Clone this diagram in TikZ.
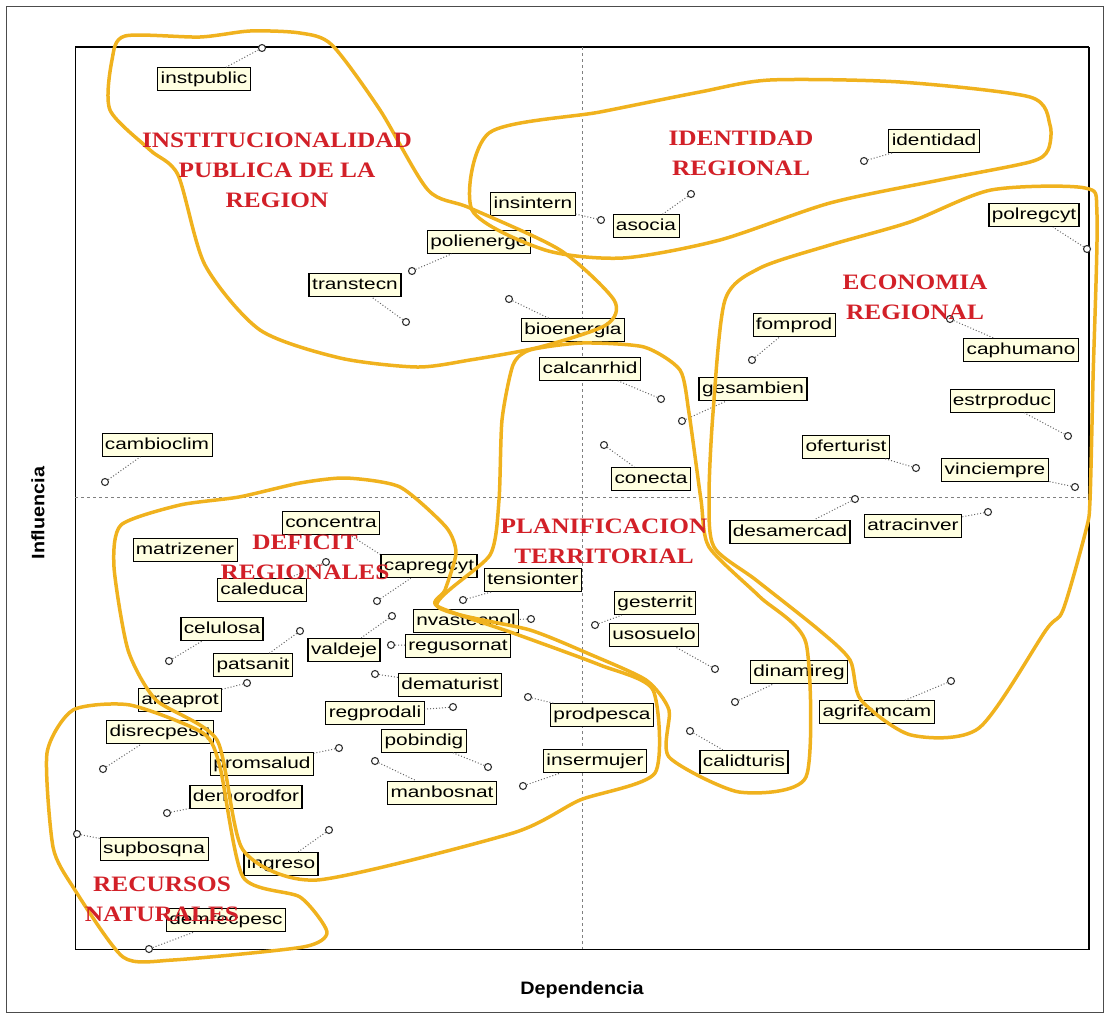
\documentclass[tikz,border=0pt]{standalone}
\usepackage{fontspec}
\setmainfont{Liberation Serif}
\newfontfamily\lblfont[FakeStretch=1.3]{Liberation Sans}
\newfontfamily\axfont[FakeStretch=1.1]{Liberation Sans}
\newfontfamily\grpfont[FakeStretch=1.15]{Liberation Serif}
\definecolor{cream}{RGB}{255,255,225}
\definecolor{zoneyellow}{RGB}{240,178,30}
\definecolor{zonered}{RGB}{210,32,40}

\begin{document}
\begin{tikzpicture}[x=1pt,y=-1pt,
    lbl/.style={draw=black, fill=cream, font=\lblfont\fontsize{16}{16}\selectfont,
      inner xsep=3pt, inner ysep=4pt, text height=11.5pt, text depth=3.5pt},
    pnt/.style={circle, draw=black!80, fill=white, line width=1.1pt,
      inner sep=0pt, minimum size=7pt},
    leader/.style={black!60, dotted, line width=1pt},
    zone/.style={zoneyellow, line width=3.5pt, line join=round},
    zonename/.style={zonered, font=\grpfont\bfseries\fontsize{22}{30}\selectfont, align=center},
    axisname/.style={font=\axfont\bfseries\fontsize{18}{18}\selectfont}]
  \useasboundingbox (0,0) rectangle (1109,1018);
  %%%%%%%%%%%%%%%%% frame and axes %%%%%%%%%%%%%%%%%%%
  \draw[black!70, line width=1pt] (6,6) rectangle (1103,1012);
  \draw[line width=1pt] (75,47) rectangle (1089,949);
  \draw[line width=2.5pt] (75,47) -- (1089,47);
  \draw[line width=1.8pt] (1089,47) -- (1089,949);
  \draw[black!50, dashed] (582,47) -- (582,949);
  \draw[black!50, dashed] (75,497) -- (1089,497);
  \node[axisname] (dep) at (582,990) {Dependencia};
  \node[axisname, rotate=90] (inf) at (38,513) {Influencia};

  %%%%%%%%%%%%%%%%% variables %%%%%%%%%%%%%%%%%%%
  %  name / box line width / box x;y / point x;y
  \foreach \n/\w/\bx/\by/\px/\py in {%
    instpublic/0.6/204/79/262/48, identidad/0.6/934/141/864/161,
    insintern/0.6/533/204/601/220, asocia/0.6/646/226/691/194,
    polregcyt/1.5/1034/215/1087/249, polienerge/0.6/479/242/412/271,
    transtecn/1.5/355/285/406/322, bioenergia/0.6/573/330/509/299,
    fomprod/0.6/794/325/752/360, caphumano/0.6/1021/350/950/319,
    calcanrhid/0.6/590/369/661/399, gesambien/1.5/753/389/682/421,
    estrproduc/0.6/1002/401/1068/436, cambioclim/0.6/157/445/105/482,
    oferturist/0.6/846/447/916/468, conecta/1.5/651/479/604/445,
    vinciempre/1.2/995/470/1075/487, desamercad/1.5/790/532/855/499,
    atracinver/0.6/913/526/988/512, concentra/1.5/331/523/389/560,
    caleduca/0.6/262/590/326/562, capregcyt/1.5/429/566/377/601,
    tensionter/0.6/533/580/463/600, celulosa/1.5/222/629/169/661,
    valdeje/1.5/344/650/392/616, nvastecnol/0.6/466/621/531/619,
    regusornat/0.6/458/646/391/645, patsanit/0.6/253/665/300/631,
    dematurist/0.6/450/685/375/674, areaprot/0.6/180/700/247/683,
    regprodali/0.6/375/713/453/707, prodpesca/0.6/602/715/528/697,
    pobindig/0.6/424/741/488/767, insermujer/1.5/595/761/523/786,
    promsalud/0.6/262/764/339/748, manbosnat/1.5/442/793/375/761,
    disrecpesq/1.5/160/732/103/769, demorodfor/1.5/246/797/167/813,
    supbosqna/0.6/154/849/77/834, ingreso/1.5/281/864/329/830,
    demrecpesc/1.5/226/920/149/949, gesterrit/1.5/655/603/595/625,
    usosuelo/0.6/654/635/715/669, dinamireg/1.5/799/672/735/702,
    agrifamcam/0.6/877/712/951/681, calidturis/1.5/744/762/690/731}
  {\node[lbl, line width=\w pt] (\n) at (\bx,\by) {\n};
   \node[pnt] (p\n) at (\px,\py) {};
   \draw[leader] (p\n) -- (\n);}
  \node[lbl, line width=0.6pt] (matrizener) at (185,550) {matrizener};

  %%%%%%%%%%%%%%%%% zones %%%%%%%%%%%%%%%%%%%%%%%
  % institucionalidad
  \draw[zone] plot[smooth cycle, tension=0.45] coordinates {(112,60) (125,36) (200,37) (250,31)
    (300,33) (332,45) (380,110) (428,190) (470,208) (560,250) (614,300) (606,325) (540,347)
    (470,360) (417,367) (340,358) (260,330) (205,265) (178,175) (150,150) (110,110)};
  % identidad
  \draw[zone] plot[smooth cycle, tension=0.45] coordinates {(489,133) (600,112) (700,92) (770,80)
    (900,82) (1030,97) (1050,125) (1048,150) (1030,162) (940,180) (830,203) (720,240) (623,258)
    (545,250) (472,210)};
  % economia
  \draw[zone] plot[smooth cycle, tension=0.45] coordinates {(725,300) (760,268) (830,245) (910,222)
    (991,190) (1085,188) (1097,215) (1093,380) (1090,500) (1086,530) (1063,610) (1046,630)
    (979,728) (911,735) (861,700) (850,660) (819,630) (756,580) (714,547) (709,497) (713,413)};
  % planificacion
  \draw[zone] plot[smooth cycle, tension=0.4] coordinates {(513,365) (530,350) (582,343) (644,347)
    (680,370) (689,413) (701,500) (709,547) (760,597) (806,643) (806,777) (739,792) (669,757)
    (669,710) (646,680) (587,653) (530,630) (437,606) (490,555) (499,500) (502,420)};
  % deficit
  \draw[zone] plot[smooth cycle, tension=0.4] coordinates {(121,525) (180,505) (239,497) (300,483)
    (346,478) (400,487) (446,527) (456,553) (445,590) (437,606) (513,633) (600,665) (653,690)
    (655,773) (580,800) (513,833) (317,880) (243,850) (217,740) (156,700) (128,650) (114,567)};
  % recursos
  \draw[zone] plot[smooth cycle, tension=0.4] coordinates {(47,753) (73,710) (130,705) (203,733)
    (220,767) (243,877) (300,897) (327,932) (303,947) (173,960) (123,957) (73,887) (53,847)};

  %%%%%%%%%%%%%%%%% zone names %%%%%%%%%%%%%%%%%%
  \node[zonename] (tinst) at (277,170) {INSTITUCIONALIDAD\\PUBLICA DE LA\\REGION};
  \node[zonename] (tident) at (741,153) {IDENTIDAD\\REGIONAL};
  \node[zonename] (tecon) at (915,297) {ECONOMIA\\REGIONAL};
  \node[zonename] (tplan) at (604,541) {PLANIFICACION\\TERRITORIAL};
  \node[zonename] (tdef) at (305,557) {DEFICIT\\REGIONALES};
  \node[zonename] (trec) at (162,899) {RECURSOS\\NATURALES};
\end{tikzpicture}
\end{document}
